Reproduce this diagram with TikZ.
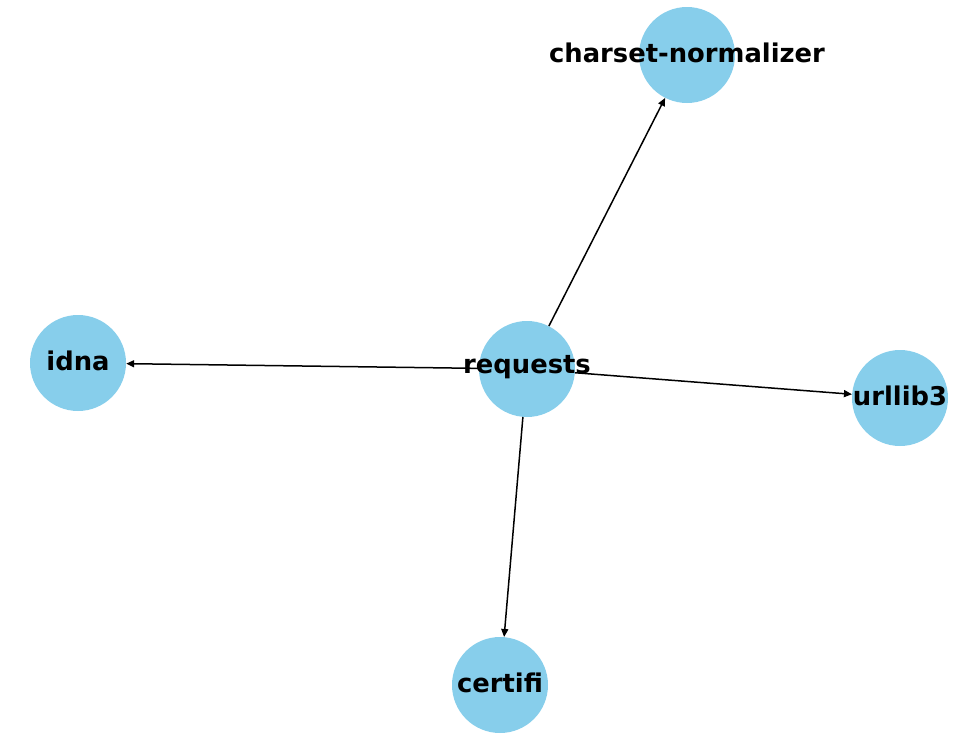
\documentclass[tikz,border=0pt]{standalone}
\usepackage{fontspec}
\setmainfont{DejaVu Sans}
\usetikzlibrary{arrows.meta}
\definecolor{skyblue}{HTML}{87CEEB}

\begin{document}
\begin{tikzpicture}[
 x=1pt,y=-1pt,
 pkg/.style={circle,fill=skyblue,minimum size=96pt,inner sep=0pt},
 lbl/.style={font=\fontsize{25.8}{30}\selectfont\bfseries,inner sep=0pt,yshift=2pt},
 arrow/.style={-{Triangle[length=8pt,width=7pt]},line width=1.5pt}
]
\useasboundingbox (0,0) rectangle (972,742);
\node[pkg] (requests) at (527,369) {};
\node[pkg] (charset) at (687,55) {};
\node[pkg] (idna) at (78,363) {};
\node[pkg] (urllib) at (900,398) {};
\node[pkg] (certifi) at (500,685) {};
\draw[arrow] (requests)--(charset);
\draw[arrow] (requests)--(idna);
\draw[arrow] (requests)--(urllib);
\draw[arrow] (requests)--(certifi);
\node[lbl] at (requests) {requests};
\node[lbl] at (charset) {charset-normalizer};
\node[lbl] at (idna) {idna};
\node[lbl] at (urllib) {urllib3};
\node[lbl] at (certifi) {certifi};
\end{tikzpicture}
\end{document}
